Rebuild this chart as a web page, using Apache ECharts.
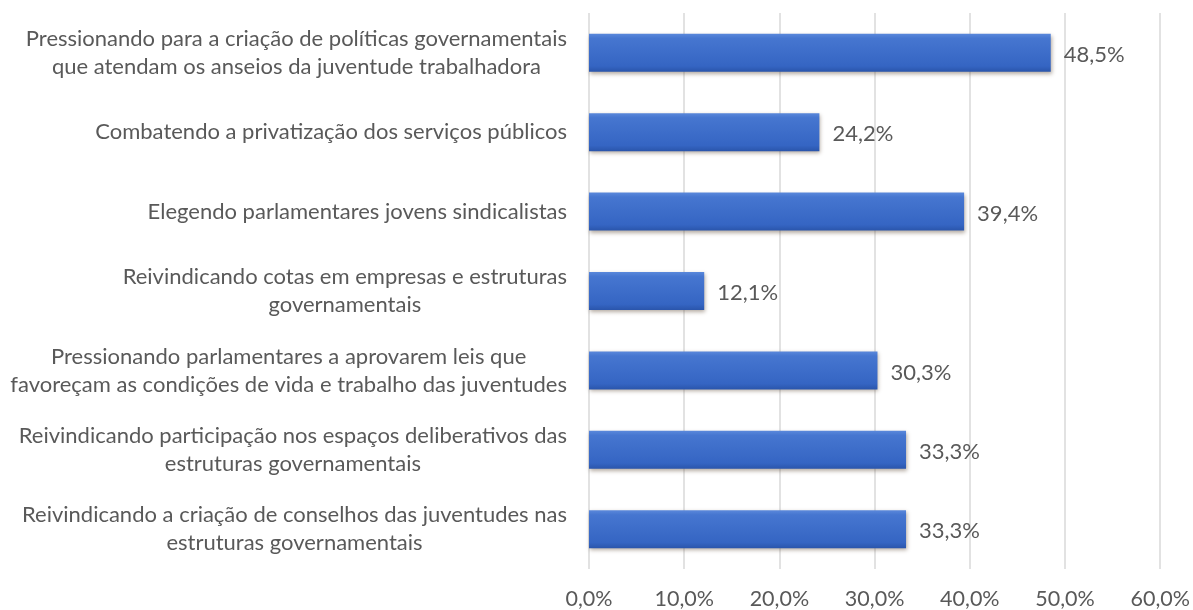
<!DOCTYPE html>
<html>
<head>
<meta charset="utf-8">
<script src="https://cdn.jsdelivr.net/npm/echarts@6/dist/echarts.min.js"></script>
<style>
  html, body { margin: 0; padding: 0; background: #ffffff; }
  #chart { width: 1193px; height: 610px; }
</style>
</head>
<body>
<div id="chart"></div>
<script>
// Category labels (top to bottom), with their line breaks
const categories = [
  'Pressionando para a criação de políticas governamentais\nque atendam os anseios da juventude trabalhadora',
  'Combatendo a privatização dos serviços públicos',
  'Elegendo parlamentares jovens sindicalistas',
  'Reivindicando cotas em empresas e estruturas\ngovernamentais',
  'Pressionando parlamentares a aprovarem leis que\nfavoreçam as condições de vida e trabalho das juventudes',
  'Reivindicando participação nos espaços deliberativos das\nestruturas governamentais',
  'Reivindicando a criação de conselhos das juventudes nas\nestruturas governamentais'
];
// Share of answers, in percent
const values = [48.5, 24.2, 39.4, 12.1, 30.3, 33.3, 33.3];
// Value axis ticks
const axisMin = 0;
const axisMax = 60;
const axisStep = 10;

const fmtPct = v => Number(v).toFixed(1).replace('.', ',') + '%';
const textColor = '#595959';
const fontFamily = 'Lato, "Liberation Sans", sans-serif';

const chart = echarts.init(document.getElementById('chart'));
chart.setOption({
  backgroundColor: '#ffffff',
  animation: false,
  grid: { left: 589, right: 31, top: 13, bottom: 39, containLabel: false },
  xAxis: {
    type: 'value',
    min: axisMin,
    max: axisMax,
    interval: axisStep,
    axisLine: { show: false },
    axisTick: { show: false },
    splitLine: { show: true, lineStyle: { color: '#d9d9d9', width: 1.5 } },
    axisLabel: {
      formatter: fmtPct,
      color: textColor,
      fontFamily: fontFamily,
      fontSize: 21.5,
      margin: 19
    }
  },
  yAxis: {
    type: 'category',
    inverse: true,
    data: categories,
    axisLine: { show: false },
    axisTick: { show: false },
    splitLine: { show: false },
    axisLabel: {
      color: textColor,
      fontFamily: fontFamily,
      fontSize: 22,
      lineHeight: 28,
      margin: 22,
      align: 'right',
      // each line centred inside the label block
      formatter: v => v.split('\n').map(s => '{c|' + s + '}').join('\n'),
      rich: {
        c: {
          align: 'center',
          color: textColor,
          fontFamily: fontFamily,
          fontSize: 22,
          lineHeight: 28
        }
      }
    }
  },
  series: [{
    type: 'bar',
    data: values,
    barWidth: 38,
    itemStyle: {
      color: new echarts.graphic.LinearGradient(0, 0, 0, 1, [
        { offset: 0, color: '#5a88db' },
        { offset: 0.12, color: '#4676d0' },
        { offset: 0.85, color: '#3565c3' },
        { offset: 1, color: '#2a55ab' }
      ]),
      shadowColor: 'rgba(90, 70, 50, 0.45)',
      shadowBlur: 4,
      shadowOffsetX: 1,
      shadowOffsetY: 2
    },
    label: {
      show: true,
      position: 'right',
      distance: 13,
      offset: [0, 2],
      formatter: p => fmtPct(p.value),
      color: textColor,
      fontFamily: fontFamily,
      fontSize: 22
    }
  }]
});
</script>
</body>
</html>
